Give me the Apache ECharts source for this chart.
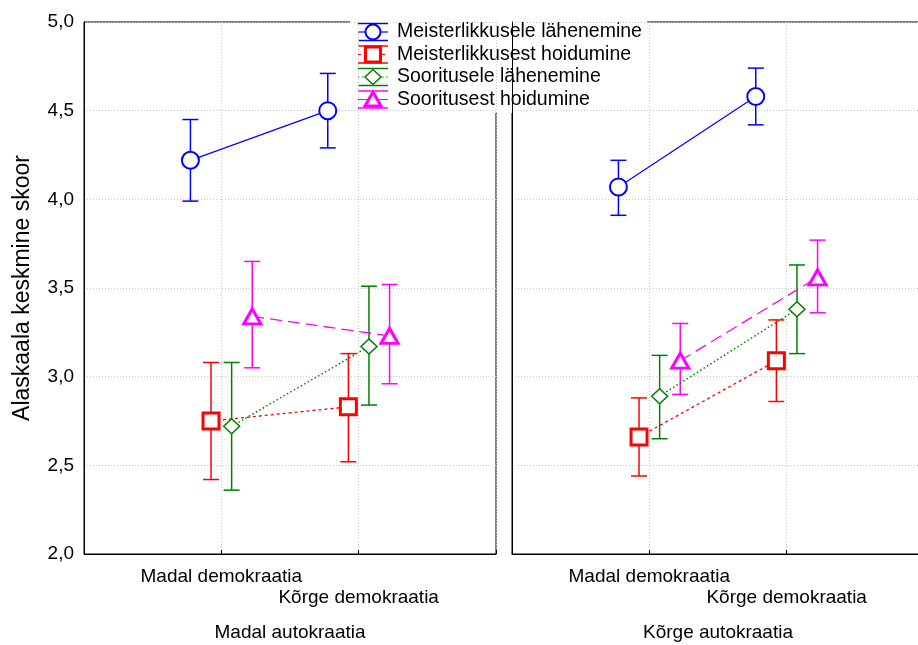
<!DOCTYPE html>
<html>
<head>
<meta charset="utf-8">
<script src="https://cdn.jsdelivr.net/npm/echarts@6/dist/echarts.min.js"></script>
<style>
  html, body { margin: 0; padding: 0; background: #fff; }
  #chart { width: 918px; height: 645px; }
</style>
</head>
<body>
<div id="chart"></div>
<script>
// Groups on the x axis of each panel and the panel titles
const categories = ['Madal demokraatia', 'Kõrge demokraatia'];
const panels = ['Madal autokraatia', 'Kõrge autokraatia'];
const seriesNames = [
  'Meisterlikkusele lähenemine',
  'Meisterlikkusest hoidumine',
  'Sooritusele lähenemine',
  'Sooritusest hoidumine'
];
const yTicks = [2.0, 2.5, 3.0, 3.5, 4.0, 4.5, 5.0];

// Means with lower / upper interval limits: [panel][category]
const mlMean = [[4.22, 4.50], [4.07, 4.58]];
const mlLow  = [[3.99, 4.29], [3.91, 4.42]];
const mlHigh = [[4.45, 4.71], [4.22, 4.74]];

const mhMean = [[2.75, 2.83], [2.66, 3.09]];
const mhLow  = [[2.42, 2.52], [2.44, 2.86]];
const mhHigh = [[3.08, 3.13], [2.88, 3.32]];

const slMean = [[2.72, 3.17], [2.89, 3.38]];
const slLow  = [[2.36, 2.84], [2.65, 3.13]];
const slHigh = [[3.08, 3.51], [3.12, 3.63]];

const shMean = [[3.34, 3.23], [3.09, 3.56]];
const shLow  = [[3.05, 2.96], [2.90, 3.36]];
const shHigh = [[3.65, 3.52], [3.30, 3.77]];

const means = [mlMean, mhMean, slMean, shMean];
const lows = [mlLow, mhLow, slLow, shLow];
const highs = [mlHigh, mhHigh, slHigh, shHigh];

// Styling per series
const colors = ['#0000ff', '#ff0000', '#008000', '#ff00ff'];
const symbols = ['circle', 'rect', 'diamond', 'triangle'];
const symbolSizes = [17, 16, [16, 15], [17, 15]];
const symbolBorders = [2, 3, 1.5, 3];
const lineTypes = ['solid', [3, 3], [1.5, 2.5], [12, 6]];
const lineWidths = [1.2, 1.3, 1.5, 1.3];
const dodge = [-0.225, -0.075, 0.075, 0.225];

const FONT = "'Liberation Sans', Arial, sans-serif";
const fmtY = v => v.toFixed(1).replace('.', ',');

const gridDefs = [
  { left: 84, top: 22, width: 412, height: 532 },
  { left: 512, top: 22, width: 412, height: 532 }
];

const grids = gridDefs.map(g => Object.assign({
  show: true, borderColor: '#000', borderWidth: 1, backgroundColor: 'transparent',
  containLabel: false, outerBoundsMode: 'none'
}, g));

const xAxes = panels.map((p, i) => ({
  gridIndex: i,
  type: 'value',
  min: 0, max: 3, interval: 1,
  name: p,
  nameLocation: 'middle',
  nameGap: 69,
  nameTextStyle: { fontFamily: FONT, fontSize: 19, color: '#000' },
  axisLine: { show: true, lineStyle: { color: '#000', width: 1 } },
  axisTick: { show: true, inside: true, length: 4, lineStyle: { color: '#000' } },
  axisLabel: {
    show: true,
    margin: 12,
    fontFamily: FONT, fontSize: 19, color: '#000', lineHeight: 21,
    formatter: v => v === 1 ? categories[0] : (v === 2 ? '\n' + categories[1] : '')
  },
  splitLine: { show: true, lineStyle: { color: '#c8c8c8', type: [1, 2], width: 1 } }
}));

const yAxes = panels.map((p, i) => ({
  gridIndex: i,
  type: 'value',
  min: yTicks[0], max: yTicks[yTicks.length - 1], interval: 0.5,
  name: i === 0 ? 'Alaskaala keskmine skoor' : '',
  nameLocation: 'middle',
  nameGap: 50,
  nameTextStyle: { fontFamily: FONT, fontSize: 23, color: '#000' },
  axisLine: { show: true, lineStyle: { color: '#000', width: 1 } },
  axisTick: { show: false },
  axisLabel: {
    show: i === 0, margin: 10,
    fontFamily: FONT, fontSize: 19, color: '#000',
    formatter: fmtY
  },
  splitLine: { show: true, lineStyle: { color: '#c8c8c8', type: [1, 2], width: 1 } }
}));

// Vertical interval bars with end caps
function errorBarRender(color) {
  return function (params, api) {
    const x = api.value(0);
    const lo = api.coord([x, api.value(1)]);
    const hi = api.coord([x, api.value(2)]);
    const w = 8;
    const style = { stroke: color, lineWidth: 1.5 };
    return {
      type: 'group',
      children: [
        { type: 'line', shape: { x1: lo[0], y1: lo[1], x2: hi[0], y2: hi[1] }, style },
        { type: 'line', shape: { x1: lo[0] - w, y1: lo[1], x2: lo[0] + w, y2: lo[1] }, style },
        { type: 'line', shape: { x1: hi[0] - w, y1: hi[1], x2: hi[0] + w, y2: hi[1] }, style }
      ]
    };
  };
}

const series = [];
panels.forEach((p, pi) => {
  seriesNames.forEach((name, si) => {
    const errData = categories.map((c, ci) => [ci + 1 + dodge[si], lows[si][pi][ci], highs[si][pi][ci]]);
    series.push({
      type: 'custom',
      name: name,
      xAxisIndex: pi, yAxisIndex: pi,
      renderItem: errorBarRender(colors[si]),
      encode: { x: 0, y: [1, 2] },
      data: errData,
      z: 2,
      silent: true
    });
  });
  seriesNames.forEach((name, si) => {
    const lineData = categories.map((c, ci) => [ci + 1 + dodge[si], means[si][pi][ci]]);
    series.push({
      type: 'line',
      name: name,
      xAxisIndex: pi, yAxisIndex: pi,
      data: lineData,
      symbol: symbols[si],
      symbolSize: symbolSizes[si],
      showSymbol: true,
      clip: false,
      lineStyle: { color: colors[si], width: lineWidths[si], type: lineTypes[si] },
      itemStyle: { color: '#fff', borderColor: colors[si], borderWidth: symbolBorders[si] },
      z: 3 + si,
      silent: true,
      animation: false
    });
  });
});

// Legend box drawn over the panel tops
function legendMarker(si, cx, cy) {
  const st = { fill: '#fff', stroke: colors[si], lineWidth: symbolBorders[si] };
  if (si === 0) return { type: 'circle', shape: { cx, cy, r: 7.5 }, style: st };
  if (si === 1) return { type: 'rect', shape: { x: cx - 7.5, y: cy - 7.5, width: 15, height: 15 }, style: st };
  if (si === 2) return { type: 'polygon', shape: { points: [[cx, cy - 7.5], [cx + 8, cy], [cx, cy + 7.5], [cx - 8, cy]] }, style: st };
  return { type: 'polygon', shape: { points: [[cx, cy - 7.5], [cx + 8, cy + 6.5], [cx - 8, cy + 6.5]] }, style: st };
}

const legendChildren = [
  { type: 'rect', shape: { x: 350, y: 0, width: 297, height: 113 }, style: { fill: '#fff' } }
];
const rowY = [32, 54.5, 77, 99.5];
seriesNames.forEach((name, si) => {
  const cx = 373, cy = rowY[si];
  const capStyle = { stroke: colors[si], lineWidth: 1.5 };
  legendChildren.push(
    { type: 'line', shape: { x1: cx - 15, y1: cy - 8.5, x2: cx + 15, y2: cy - 8.5 }, style: capStyle },
    { type: 'line', shape: { x1: cx - 15, y1: cy + 8.5, x2: cx + 15, y2: cy + 8.5 }, style: capStyle },
    { type: 'line', shape: { x1: cx - 15, y1: cy, x2: cx + 15, y2: cy },
      style: { stroke: colors[si], lineWidth: 1.2, lineDash: lineTypes[si] === 'solid' ? null : lineTypes[si] } },
    legendMarker(si, cx, cy),
    { type: 'text', x: 397, y: cy,
      style: { text: name, fontFamily: FONT, fontSize: 19.5, fill: '#000', verticalAlign: 'middle', align: 'left' } }
  );
});

const chart = echarts.init(document.getElementById('chart'), null, { renderer: 'canvas' });
chart.setOption({
  animation: false,
  backgroundColor: '#fff',
  grid: grids,
  xAxis: xAxes,
  yAxis: yAxes,
  series: series,
  graphic: [{ type: 'group', z: 100, children: legendChildren }]
});
</script>
</body>
</html>
